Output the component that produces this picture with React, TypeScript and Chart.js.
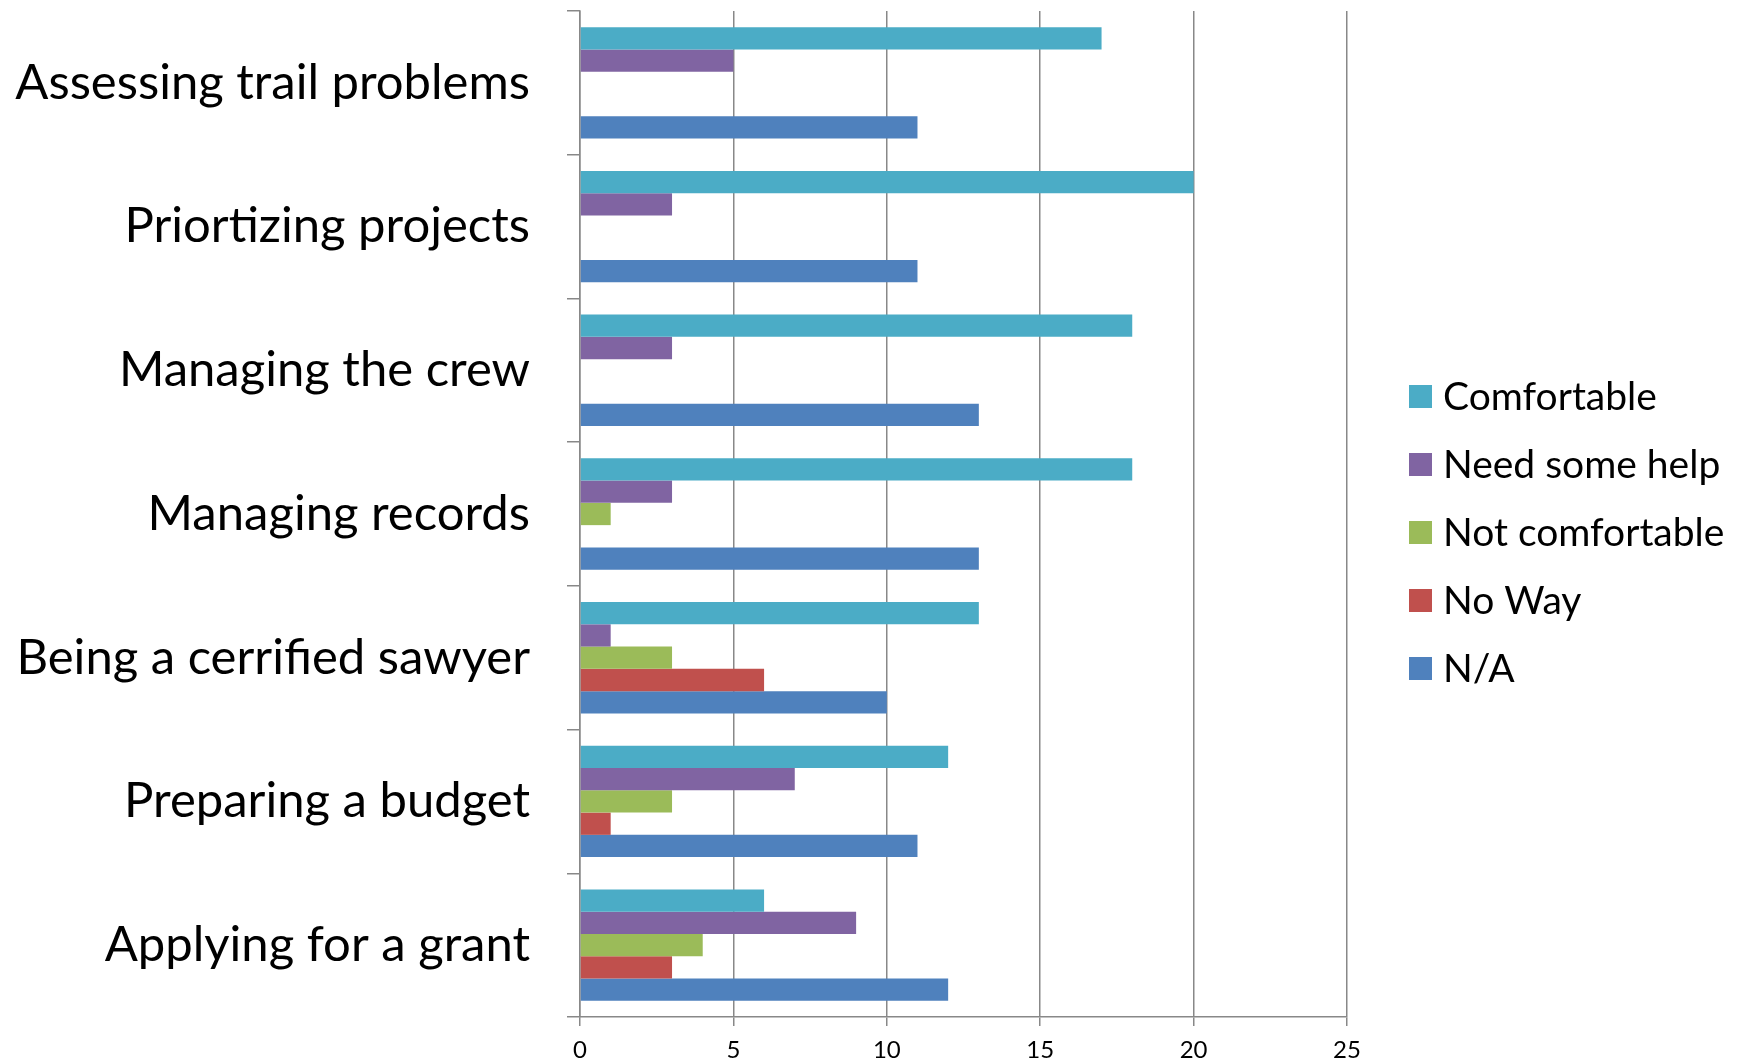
import React, { useEffect, useRef } from "react";
import { Chart, registerables } from "chart.js";

Chart.register(...registerables);

const categories = [
  "Assessing trail problems",
  "Priortizing projects",
  "Managing the crew",
  "Managing records",
  "Being a cerrified sawyer",
  "Preparing a budget",
  "Applying for a grant",
];

const seriesNames = ["Comfortable", "Need some help", "Not comfortable", "No Way", "N/A"];
const seriesColors = ["#4BACC6", "#8064A2", "#9BBB59", "#C0504D", "#4F81BD"];

const comfortable = [17, 20, 18, 18, 13, 12, 6];
const needSomeHelp = [5, 3, 3, 3, 1, 7, 9];
const notComfortable = [0, 0, 0, 1, 3, 3, 4];
const noWay = [0, 0, 0, 0, 6, 1, 3];
const notApplicable = [11, 11, 13, 13, 10, 11, 12];

const xTicks = [0, 5, 10, 15, 20, 25];

const FONT = "Lato, 'Open Sans', sans-serif";

export default function App() {
  const ref = useRef<HTMLCanvasElement | null>(null);

  useEffect(() => {
    document.body.style.margin = "0";
    const values = [comfortable, needSomeHelp, notComfortable, noWay, notApplicable];
    const legendPlugin = {
      id: "customLegend",
      afterDraw(chart: any) {
        const ctx = chart.ctx;
        ctx.save();
        const x0 = 1409;
        const yStart = 396;
        const step = 68;
        ctx.font = `39px ${FONT}`;
        ctx.textBaseline = "middle";
        ctx.textAlign = "left";
        chart.data.datasets.forEach((ds: any, i: number) => {
          const y = yStart + i * step;
          ctx.fillStyle = ds.backgroundColor;
          ctx.fillRect(x0, y - 11, 23, 23);
          ctx.fillStyle = "#000";
          ctx.fillText(ds.label, x0 + 34, y + 1);
        });
        ctx.restore();
      },
    };
    const chart = new Chart(ref.current!, {
      type: "bar",
      data: {
        labels: categories,
        datasets: seriesNames.map((name, i) => ({
          label: name,
          data: values[i],
          backgroundColor: seriesColors[i],
          borderWidth: 0,
          categoryPercentage: 0.775,
          barPercentage: 1,
        })),
      },
      options: {
        indexAxis: "y",
        animation: false,
        responsive: false,
        maintainAspectRatio: false,
        layout: { autoPadding: false, padding: { left: 0, top: 11, right: 395, bottom: 0 } },
        plugins: {
          legend: { display: false },
          tooltip: { enabled: false },
        },
        scales: {
          x: {
            min: 0,
            max: 25,
            afterBuildTicks: (scale: any) => {
              scale.ticks = xTicks.map((v) => ({ value: v }));
            },
            afterFit: (scale: any) => {
              scale.height = 46;
              scale.paddingLeft = 0;
              scale.paddingRight = 0;
            },
            ticks: {
              color: "#000",
              font: { family: FONT, size: 24 },
              padding: 10,
              maxRotation: 0,
            },
            grid: {
              color: "#888888",
              lineWidth: 1.5,
              tickLength: 9,
              drawOnChartArea: true,
            },
            border: { display: true, color: "#888888", width: 1.5 },
          },
          y: {
            offset: true,
            afterFit: (scale: any) => {
              scale.width = 580;
              scale.paddingTop = 0;
              scale.paddingBottom = 0;
            },
            ticks: {
              color: "#000",
              font: { family: FONT, size: 49 },
              padding: 37,
            },
            grid: {
              offset: true,
              drawOnChartArea: false,
              color: "#888888",
              lineWidth: 1.5,
              tickLength: 13,
            },
            border: { display: true, color: "#888888", width: 1.5 },
          },
        },
      },
      plugins: [legendPlugin],
    });
    return () => chart.destroy();
  }, []);

  return (
    <div style={{ width: 1742, height: 1063 }}>
      <canvas ref={ref} width={1742} height={1063} style={{ display: "block" }} />
    </div>
  );
}
